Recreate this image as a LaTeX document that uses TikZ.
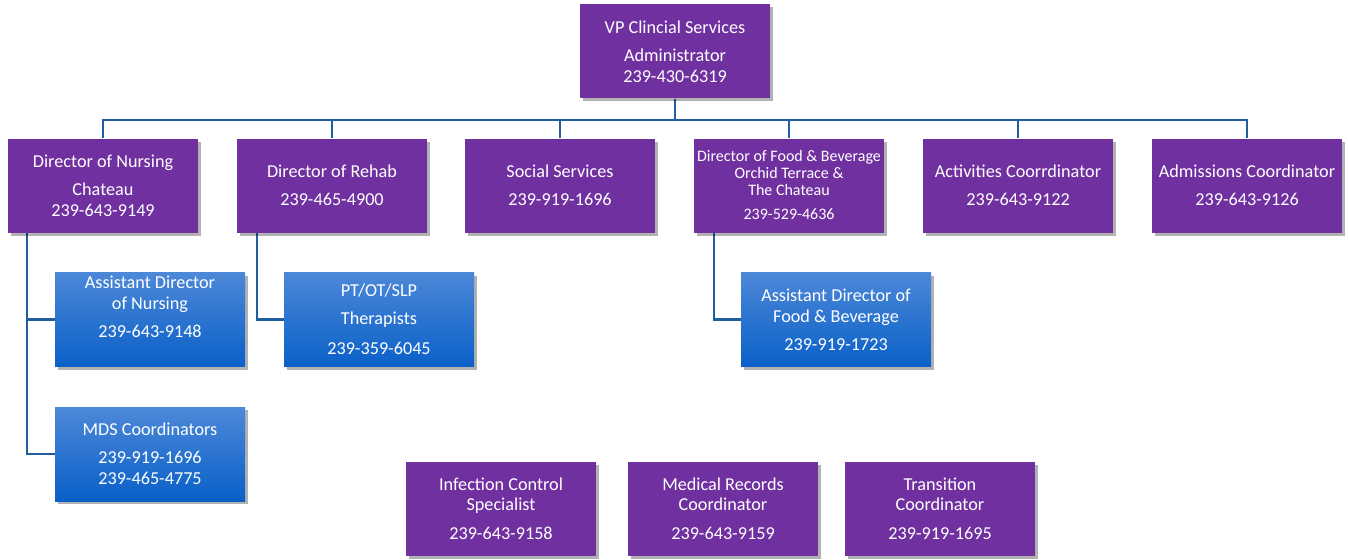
\documentclass[tikz,border=0pt]{standalone}
\usepackage{fontspec}
\setmainfont{Carlito}
\usetikzlibrary{shadows,backgrounds}
\definecolor{purp}{RGB}{112,48,160}
\definecolor{conn}{RGB}{31,95,160}
\definecolor{btop}{RGB}{76,136,216}
\definecolor{bbot}{RGB}{10,96,200}
\tikzset{
  boxbase/.style={minimum width=190pt, minimum height=94pt, inner sep=0pt, align=center,
    text=white, font=\fontsize{18.2}{21}\selectfont,
    drop shadow={shadow xshift=3pt, shadow yshift=-3pt, opacity=0.3, fill=black}},
  pbox/.style={boxbase, fill=purp},
  bbox/.style={boxbase, top color=btop, bottom color=bbot},
  txt/.style={inner sep=0pt, align=center, text=white, font=\fontsize{18.2}{21}\selectfont},
  cline/.style={draw=conn, line width=2.4pt},
}
\begin{document}
\begin{tikzpicture}[x=1pt,y=-1pt]
\useasboundingbox (0,0) rectangle (1348,559);
% top
\node[pbox] (vp) at (675,51.5) {VP Clincial Services\\[7pt]Administrator\\239-430-6319};
% row 1
\node[pbox] (don) at (103,185.5) {Director of Nursing\\[7pt]Chateau\\239-643-9149};
\node[pbox] (reh) at (332,185.5) {Director of Rehab\\[7pt]239-465-4900};
\node[pbox] (soc) at (560,185.5) {Social Services\\[7pt]239-919-1696};
\node[pbox, font=\fontsize{16}{17}\selectfont] (fnb) at (789,185.5) {Director of Food \& Beverage\\Orchid Terrace \&\\The Chateau\\[7pt]239-529-4636};
\node[pbox] (act) at (1018,185.5) {Activities Coorrdinator\\[7pt]239-643-9122};
\node[pbox] (adm) at (1247,185.5) {Admissions Coordinator\\[7pt]239-643-9126};
% blue
\node[bbox] (adon) at (150,319.5) {};
\node[txt] (adont) at ([yshift=13pt]adon.center) {Assistant Director\\of Nursing\\[7pt]239-643-9148};
\node[bbox] (mds) at (150,454) {MDS Coordinators\\[7pt]239-919-1696\\239-465-4775};
\node[bbox] (pt) at (379,319.5) {PT/OT/SLP\\[7pt]Therapists\\[9pt]239-359-6045};
\node[bbox] (afb) at (836,319.5) {Assistant Director of\\Food \& Beverage\\[7pt]239-919-1723};
% bottom
\node[pbox, font=\fontsize{18.2}{20}\selectfont] (ics) at (501,509) {Infection Control\\Specialist\\[9pt]239-643-9158};
\node[pbox, font=\fontsize{18.2}{20}\selectfont] (mrc) at (723,509) {Medical Records\\Coordinator\\[9pt]239-643-9159};
\node[pbox, font=\fontsize{18.2}{20}\selectfont] (trc) at (940,509) {Transition\\Coordinator\\[9pt]239-919-1695};
% connectors
\begin{scope}[on background layer]
\coordinate (bus) at (0,120);
\draw[cline] (vp.south) -- (vp.south |- bus);
\draw[cline] (don.north) -- (don.north |- bus) -- (adm.north |- bus) -- (adm.north);
\foreach \n in {reh,soc,fnb,act} \draw[cline] (\n.north) -- (\n.north |- bus);
\coordinate (dontap) at ([xshift=19pt]don.south west);
\draw[cline] (dontap) |- (mds.west);
\draw[cline] (dontap |- adon.west) -- (adon.west);
\coordinate (rehtap) at ([xshift=20pt]reh.south west);
\draw[cline] (rehtap) |- (pt.west);
\coordinate (fnbtap) at ([xshift=20pt]fnb.south west);
\draw[cline] (fnbtap) |- (afb.west);
\end{scope}
\end{tikzpicture}
\end{document}
